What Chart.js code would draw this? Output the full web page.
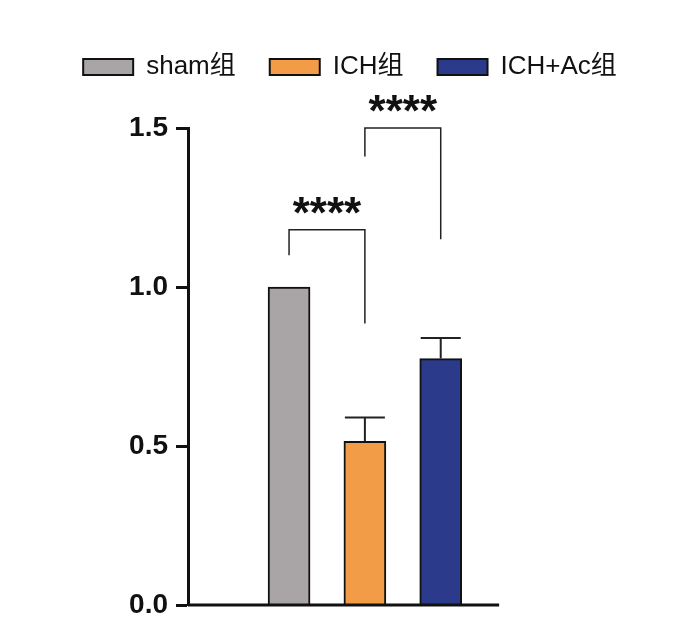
<!DOCTYPE html>
<html>
<head>
<meta charset="utf-8">
<script src="https://cdn.jsdelivr.net/npm/chart.js@4/dist/chart.umd.min.js"></script>
<style>
  body { margin: 0; background: #fff; }
  #wrap { width: 700px; height: 637px; }
</style>
</head>
<body>
<div id="wrap"><canvas id="barChart" width="700" height="637"></canvas></div>
<script>
const groups = ['sham组', 'ICH组', 'ICH+Ac组'];
const means = [1.0, 0.515, 0.775];
const errors = [0, 0.075, 0.065];
const colors = ['#a9a4a5', '#f29c48', '#2b3a8a'];
const yTicks = [0, 0.5, 1.0, 1.5];
// pairs compared: bracket height and leg bottoms
const comparisons = [
  { a: 0, b: 1, top: 1.18, legA: 1.10, legB: 0.885, label: '****' },
  { a: 1, b: 2, top: 1.5, legA: 1.41, legB: 1.15, label: '****' },
];
const xAxisEnd = 3.77; // x axis line stops here

const extras = {
  id: 'extras',
  beforeInit(chart) {
    const legend = chart.legend;
    const fit = legend.fit;
    legend.fit = function () {
      fit.call(this);
      this.height = 108; // room for the legend and the top bracket
    };
  },
  afterDatasetsDraw(chart) {
    const { ctx, scales: { x, y } } = chart;
    ctx.save();
    // x axis line
    ctx.strokeStyle = '#111';
    ctx.lineWidth = 3;
    ctx.beginPath();
    ctx.moveTo(x.left, y.bottom);
    ctx.lineTo(x.getPixelForValue(xAxisEnd), y.bottom);
    ctx.stroke();
    // error bars
    ctx.strokeStyle = '#222';
    ctx.lineWidth = 2;
    means.forEach((m, i) => {
      if (!errors[i]) return;
      const cx = x.getPixelForValue(i + 1);
      const yTop = y.getPixelForValue(m + errors[i]);
      ctx.beginPath();
      ctx.moveTo(cx, y.getPixelForValue(m));
      ctx.lineTo(cx, yTop);
      ctx.moveTo(cx - 20, yTop);
      ctx.lineTo(cx + 20, yTop);
      ctx.stroke();
    });
    // significance brackets
    ctx.lineWidth = 1.5;
    ctx.fillStyle = '#111';
    ctx.font = 'bold 44px "Liberation Sans", Arial, sans-serif';
    ctx.textAlign = 'center';
    ctx.textBaseline = 'alphabetic';
    comparisons.forEach(c => {
      const xa = x.getPixelForValue(c.a + 1), xb = x.getPixelForValue(c.b + 1);
      const yt = y.getPixelForValue(c.top);
      ctx.beginPath();
      ctx.moveTo(xa, y.getPixelForValue(c.legA));
      ctx.lineTo(xa, yt);
      ctx.lineTo(xb, yt);
      ctx.lineTo(xb, y.getPixelForValue(c.legB));
      ctx.stroke();
      ctx.fillText(c.label, (xa + xb) / 2, yt - 2);
    });
    ctx.restore();
  }
};

new Chart(document.getElementById('barChart'), {
  type: 'bar',
  data: {
    datasets: groups.map((g, i) => ({
      label: g,
      data: [{ x: i + 1, y: means[i] }],
      backgroundColor: colors[i],
      borderColor: '#111',
      borderWidth: 2,
      borderSkipped: 'bottom',
      barThickness: 42,
      grouped: false,
    })),
  },
  options: {
    responsive: false,
    animation: false,
    layout: { padding: { top: 20, left: 0, right: 0, bottom: 32 } },
    plugins: {
      tooltip: { enabled: false },
      legend: {
        position: 'top',
        align: 'center',
        labels: {
          boxWidth: 50,
          boxHeight: 16,
          padding: 34,
          color: '#111',
          font: { size: 26, family: '"Liberation Sans", "Noto Sans CJK SC", Arial, sans-serif' },
        },
      },
    },
    scales: {
      x: {
        type: 'linear',
        min: 0.23,
        max: 0.23 + 512 / 91,
        grid: { display: false, drawTicks: false },
        ticks: { display: false },
        border: { display: false },
      },
      y: {
        min: 0,
        max: 1.5,
        afterFit: axis => { axis.width = 188; },
        afterBuildTicks: axis => { axis.ticks = yTicks.map(v => ({ value: v })); },
        grid: { display: true, drawOnChartArea: false, tickLength: 12, tickWidth: 3, tickColor: '#111' },
        border: { color: '#111', width: 3 },
        ticks: {
          color: '#111',
          padding: 8,
          font: { size: 28, weight: 'bold', family: '"Liberation Sans", Arial, sans-serif' },
          callback: v => v.toFixed(1),
        },
      },
    },
  },
  plugins: [extras],
});
</script>
</body>
</html>
